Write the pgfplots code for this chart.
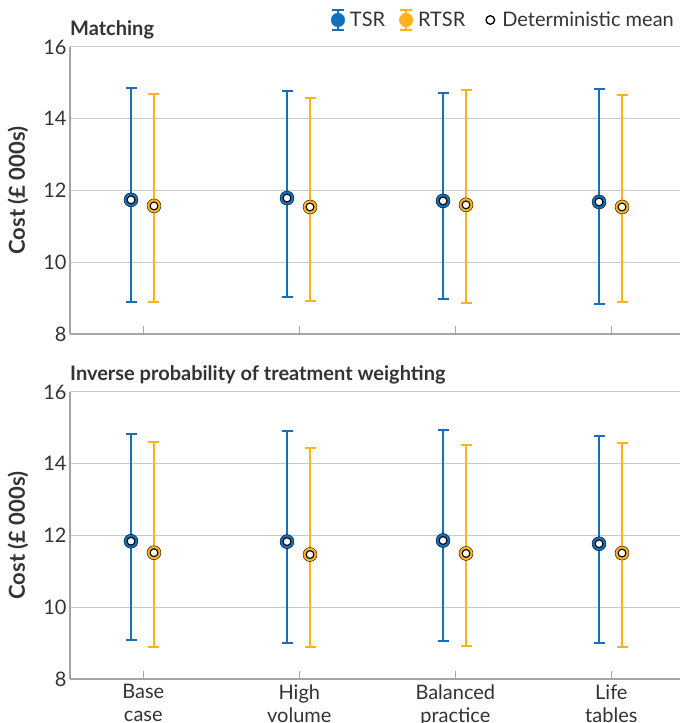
\documentclass[border=0pt]{standalone}
\usepackage{pgfplots}
\pgfplotsset{compat=1.18}
\usepackage{pgfplotstable}
\usepackage{fontspec}
\setmainfont{Lato}
\definecolor{cblue}{RGB}{20,112,188}
\definecolor{corange}{RGB}{255,178,28}
\definecolor{txt}{RGB}{51,51,51}
\definecolor{gridc}{RGB}{200,200,200}
\definecolor{axc}{RGB}{165,165,165}

% ---- Matching: means ----
\pgfplotstableread{
x y
-0.079 11.74
0.921 11.79
1.921 11.71
2.921 11.68
}\mtsr
\pgfplotstableread{
x y
0.0684 11.57
1.0684 11.54
2.0684 11.60
3.0684 11.54
}\mrtsr
% ---- Matching: intervals (low, high, break) ----
\pgfplotstableread{
x y
-0.079 8.89
-0.079 14.86
nan nan
0.921 9.03
0.921 14.77
nan nan
1.921 8.98
1.921 14.72
nan nan
2.921 8.84
2.921 14.83
}\mtsrci
\pgfplotstableread{
x y
0.0684 8.89
0.0684 14.69
nan nan
1.0684 8.91
1.0684 14.58
nan nan
2.0684 8.86
2.0684 14.80
nan nan
3.0684 8.89
3.0684 14.66
}\mrtsrci
% ---- IPTW: means ----
\pgfplotstableread{
x y
-0.079 11.84
0.921 11.83
1.921 11.86
2.921 11.77
}\itsr
\pgfplotstableread{
x y
0.0684 11.52
1.0684 11.47
2.0684 11.50
3.0684 11.51
}\irtsr
% ---- IPTW: intervals ----
\pgfplotstableread{
x y
-0.079 9.08
-0.079 14.84
nan nan
0.921 9.01
0.921 14.92
nan nan
1.921 9.05
1.921 14.93
nan nan
2.921 9.01
2.921 14.78
}\itsrci
\pgfplotstableread{
x y
0.0684 8.90
0.0684 14.60
nan nan
1.0684 8.90
1.0684 14.44
nan nan
2.0684 8.93
2.0684 14.53
nan nan
3.0684 8.89
3.0684 14.57
}\irtsrci

\newcommand{\fs}{\fontsize{20}{23}\selectfont}

\pgfplotsset{
  panel/.style={
    scale only axis, width=610pt, height=287pt,
    xmin=-0.47, xmax=3.44, ymin=8, ymax=16,
    ytick={8,10,...,16},
    xtick={0,1,2,3},
    axis x line*=bottom, axis y line*=left,
    axis line style={axc, line width=1.3pt},
    ymajorgrids, grid style={gridc, line width=1pt},
    xtick align=inside, xtick pos=bottom,
    major x tick style={axc, line width=1.2pt},
    major y tick style={draw=none},
    major tick length=8pt,
    tick label style={font=\fs, text=txt},
    /pgf/number format/assume math mode=true,
    ylabel={\fontsize{22}{24}\selectfont\bfseries Cost (£ 000s)},
    ylabel style={at={(axis description cs:-0.0852,0.5)}, anchor=center, text=txt},
    clip=false,
    unbounded coords=jump,
  },
  ciline/.style={draw=#1, line width=2pt, mark=none, forget plot},
  cicap/.style={only marks, mark=-, mark size=5.5pt, mark options={draw=#1, line width=2pt}, forget plot},
  outer/.style={only marks, mark=*, mark size=7pt, mark options={draw=none, fill=#1}},
  inner/.style={only marks, mark=*, mark size=3.9pt, mark options={draw=black, fill=white, line width=1.1pt}},
}

\begin{document}
\begin{tikzpicture}[x=1pt,y=1pt]
\useasboundingbox (0,0) rectangle (680,723);
% top panel
\begin{axis}[panel, at={(70pt,389pt)}, anchor=south west,
  xticklabels={},
  legend columns=3,
  legend style={draw=none, fill=none, inner sep=0pt, at={(rel axis cs:1,1)}, anchor=east,
    yshift=27pt, xshift=-4pt, font=\fs, text=txt, column sep=0pt},
  legend cell align=left,
]
\addplot[ciline=cblue] table[x=x, y=y] {\mtsrci};
\addplot[cicap=cblue] table[x=x, y=y] {\mtsrci};
\addplot[ciline=corange] table[x=x, y=y] {\mrtsrci};
\addplot[cicap=corange] table[x=x, y=y] {\mrtsrci};
\addplot[outer=cblue, legend image code/.code={
  \path[draw=none, fill=none] (0pt,0pt) -- (16pt,0pt);
  \draw[cblue, line width=1.8pt] (6pt,-10pt) -- (6pt,10pt);
  \draw[cblue, line width=1.8pt] (0pt,-10pt) -- (12pt,-10pt) (0pt,10pt) -- (12pt,10pt);
  \fill[cblue] (6pt,0pt) circle (6.8pt);}] table[x=x, y=y] {\mtsr};
\addlegendentry{TSR}
\addplot[outer=corange, legend image code/.code={
  \path[draw=none, fill=none] (-13pt,0pt) -- (16pt,0pt);
  \draw[corange, line width=1.8pt] (6pt,-10pt) -- (6pt,10pt);
  \draw[corange, line width=1.8pt] (0pt,-10pt) -- (12pt,-10pt) (0pt,10pt) -- (12pt,10pt);
  \fill[corange] (6pt,0pt) circle (6.8pt);}] table[x=x, y=y] {\mrtsr};
\addlegendentry{RTSR}
\addplot[inner, legend image code/.code={
  \path[draw=none, fill=none] (-17pt,0pt) -- (16pt,0pt);
  \draw[black, line width=1.3pt, fill=white] (6pt,0pt) circle (4.3pt);}] table[x=x, y=y] {\mtsr};
\addlegendentry{Deterministic mean}
\addplot[inner, forget plot] table[x=x, y=y] {\mrtsr};
\node[anchor=base west, inner sep=0pt, font=\fs\bfseries, text=txt] at (rel axis cs:0,1) [yshift=11pt] {Matching};
\end{axis}
% bottom panel
\begin{axis}[panel, at={(70pt,44pt)}, anchor=south west,
  xticklabels={{Base\\case},{High\\volume},{Balanced\\practice},{Life\\tables}},
  xticklabel style={align=center, font=\fs, text=txt, yshift=-2pt},
]
\addplot[ciline=cblue] table[x=x, y=y] {\itsrci};
\addplot[cicap=cblue] table[x=x, y=y] {\itsrci};
\addplot[ciline=corange] table[x=x, y=y] {\irtsrci};
\addplot[cicap=corange] table[x=x, y=y] {\irtsrci};
\addplot[outer=cblue] table[x=x, y=y] {\itsr};
\addplot[outer=corange] table[x=x, y=y] {\irtsr};
\addplot[inner] table[x=x, y=y] {\itsr};
\addplot[inner] table[x=x, y=y] {\irtsr};
\node[anchor=base west, inner sep=0pt, font=\fs\bfseries, text=txt] at (rel axis cs:0,1) [yshift=11pt] {Inverse probability of treatment weighting};
\end{axis}
\end{tikzpicture}
\end{document}
